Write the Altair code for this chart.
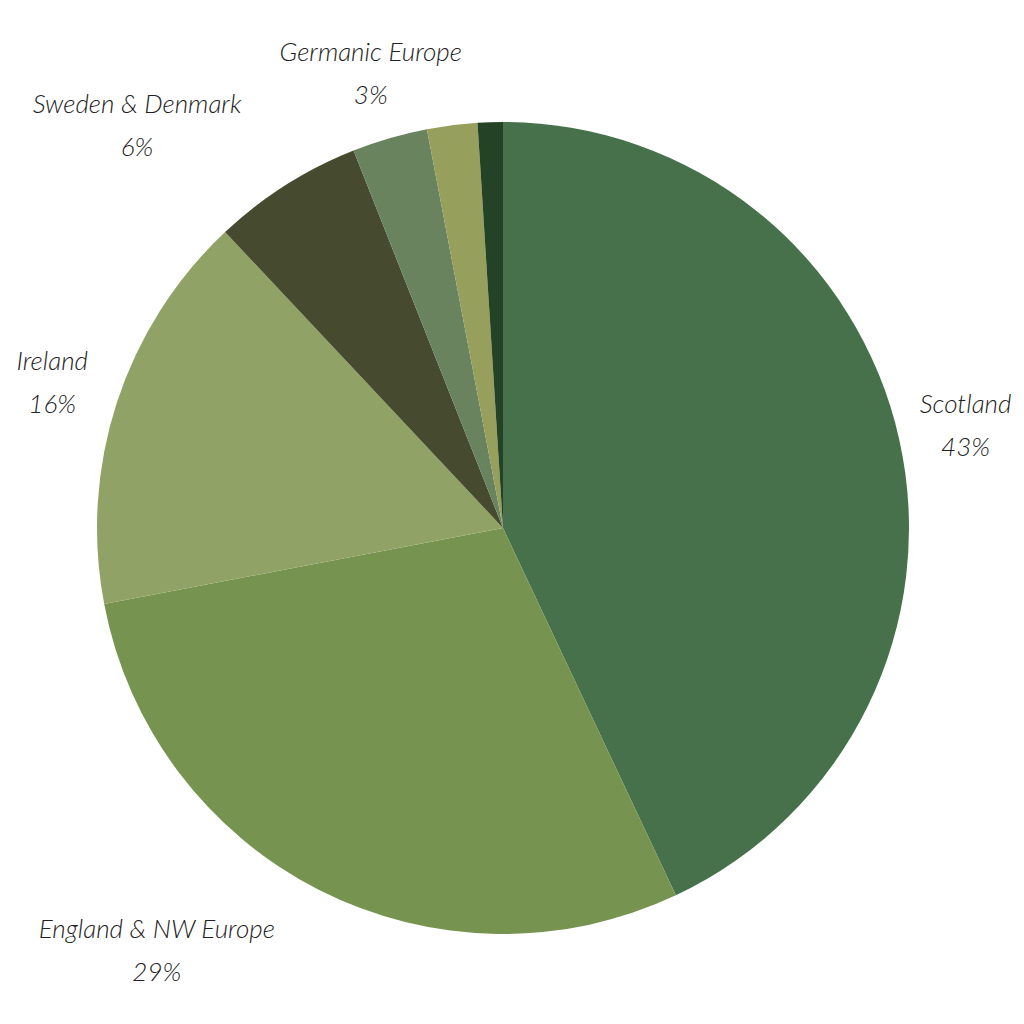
import altair as alt
import pandas as pd

regions = ["Scotland", "England & NW Europe", "Ireland", "Sweden & Denmark",
           "Germanic Europe", "Other A", "Other B"]
shares = [43, 29, 16, 6, 3, 2, 1]
colors = ["#46714A", "#76944F", "#91A266", "#464B2F", "#68835E", "#979F5D", "#244226"]
show_label = [True, True, True, True, True, False, False]

df = pd.DataFrame({
    "region": regions,
    "share": shares,
    "order": list(range(len(regions))),
    "show": show_label,
})
df["label"] = df["region"] + "\n" + df["share"].astype(str) + "%"

CX, CY = 495, 520

base = alt.Chart(df).encode(
    theta=alt.Theta("share:Q", stack=True),
    order=alt.Order("order:Q"),
)

pie = base.mark_arc(radius=406).encode(
    color=alt.Color("region:N", scale=alt.Scale(domain=regions, range=colors), legend=None),
    x=alt.value(CX), y=alt.value(CY),
)

text_kw = dict(radius=474, font="Lato", fontSize=26, fontStyle="italic", fontWeight=300,
               lineBreak="\n", lineHeight=43, color="#222222", align="center", baseline="middle")


def label_layer(pred, dx=0, dy=0):
    return base.mark_text(dx=dx, dy=dy - 20, **text_kw).encode(
        text=alt.condition(pred, alt.Text("label:N"), alt.value("")),
        x=alt.value(CX), y=alt.value(CY),
    )


labels_main = label_layer(
    "datum.show && datum.region != 'England & NW Europe' && datum.region != 'Sweden & Denmark'")
labels_eng = label_layer("datum.region == 'England & NW Europe'", dx=-131)
labels_swe = label_layer("datum.region == 'Sweden & Denmark'", dx=-112, dy=-3)

chart = alt.layer(pie, labels_main, labels_eng, labels_swe).properties(
    width=1008, height=1008, padding=0,
    autosize=alt.AutoSizeParams(type="none"),
).configure_view(stroke=None)

chart.save("out.html", embed_options={"renderer": "svg", "actions": False})
